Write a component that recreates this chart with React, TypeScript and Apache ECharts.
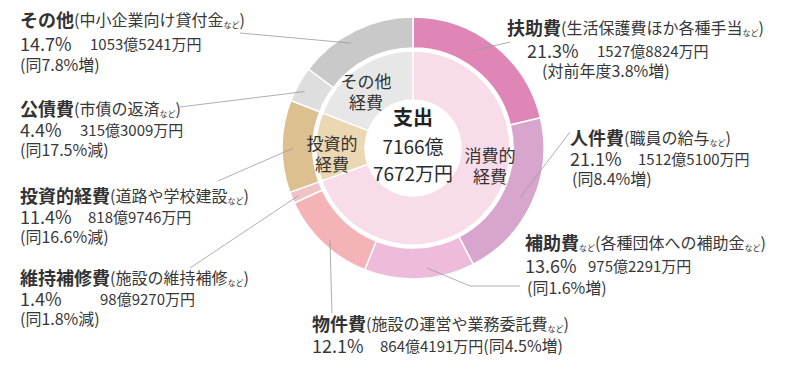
import React, { useEffect, useRef } from "react";
import * as echarts from "echarts";

// ---- data ----
const categories = ["扶助費", "人件費", "補助費", "物件費", "維持補修費", "投資的経費", "公債費", "その他"];
const shares = [21.3, 21.1, 13.6, 12.1, 1.4, 11.4, 4.4, 14.7];
const details = ["生活保護費ほか各種手当", "職員の給与", "各種団体への補助金", "施設の運営や業務委託費", "施設の維持補修", "道路や学校建設", "市債の返済", "中小企業向け貸付金"];
const amounts = ["1527億8824万円", "1512億5100万円", "975億2291万円", "864億4191万円", "98億9270万円", "818億9746万円", "315億3009万円", "1053億5241万円"];
const changes = ["対前年度3.8%増", "同8.4%増", "同1.6%増", "同4.5%増", "同1.8%減", "同16.6%減", "同17.5%減", "同7.8%増"];
const groupNames = ["消費的\n経費", "投資的\n経費", "その他\n経費"];
const groupShares = [69.5, 11.4, 19.1];
const centerTitle = "支出";
const centerLines = ["7166億", "7672万円"];

// ---- styles / layout ----
const outerColors = ["#df86b6", "#d8a6cd", "#eebbdb", "#f4b4b7", "#efc3c8", "#dcc090", "#dedede", "#c9c9c9"];
const innerColors = ["#f8dcea", "#ebd7b2", "#e7e7e7"];
const CX = 413, CY = 148;
const FONT = '"Noto Sans CJK JP", "Noto Sans", sans-serif';
const TXT = "#383838";

type Lay = { tx: number; ty: number; px: number; py: number; ax: number; cx?: number; cy?: number; frac: number; r: number; pts: number[][]; suffix?: boolean; inline?: boolean };
const layouts: Lay[] = [
  { tx: 507, ty: 27, px: 527, py: 50, ax: 597, cx: 542, cy: 70, frac: 0.41, r: 114, pts: [[510, 42]] },
  { tx: 570, ty: 137, px: 570, py: 158, ax: 638, cx: 572, cy: 178, frac: 0.5, r: 118, pts: [[570, 132]] },
  { tx: 525, ty: 242, px: 525, py: 265, ax: 588, cx: 527, cy: 287, frac: 0.42, r: 121, pts: [[470, 286], [520, 286]], suffix: true },
  { tx: 312, ty: 323, px: 312, py: 345, ax: 380, frac: 0.47, r: 124, pts: [[332, 313]], inline: true },
  { tx: 20, ty: 277, px: 20, py: 298, ax: 100, cx: 20, cy: 318, frac: 0.45, r: 124, pts: [[190, 268]] },
  { tx: 20, ty: 195, px: 20, py: 216, ax: 88, cx: 20, cy: 236, frac: 0.48, r: 120, pts: [[218, 181]] },
  { tx: 20, ty: 108, px: 20, py: 129, ax: 80, cx: 20, cy: 149, frac: 0.4, r: 122, pts: [[180, 107]] },
  { tx: 20, ty: 19, px: 20, py: 43, ax: 90, cx: 20, cy: 64, frac: 0.42, r: 122, pts: [[240, 33]] },
];
const innerLabelPos = [[490, 165], [332, 153], [366, 91]];

const rich = {
  b: { fontSize: 18, lineHeight: 18, fontWeight: "bold", fontFamily: FONT, fill: "#333", color: "#333" },
  n: { fontSize: 16, lineHeight: 18, fontFamily: FONT, fill: TXT, color: TXT },
  s: { fontSize: 8, lineHeight: 10, fontFamily: FONT, fill: TXT, color: TXT, verticalAlign: "bottom" },
  a: { fontSize: 15, lineHeight: 18, fontFamily: FONT, fill: TXT, color: TXT },
};

function text(x: number, y: number, t: string, extra: any = {}) {
  return {
    type: "text",
    z: 100,
    x,
    y,
    style: {
      text: t,
      fill: TXT,
      fontFamily: FONT,
      fontSize: 15,
      lineHeight: 17,
      align: "left",
      verticalAlign: "middle",
      textAlign: "left",
      textVerticalAlign: "middle",
      rich,
      ...extra,
    },
  };
}

export default function App() {
  const ref = useRef<HTMLDivElement>(null);
  useEffect(() => {
    document.body.style.margin = "0";
    const chart = echarts.init(ref.current!, null, { renderer: "svg" });
    const total = shares.reduce((a, b) => a + b, 0);
    const graphics: any[] = [];
    let cum = 0;
    categories.forEach((name, i) => {
      const L = layouts[i];
      const ang = ((cum + L.frac * shares[i]) / total) * Math.PI * 2;
      cum += shares[i];
      const ax = CX + L.r * Math.sin(ang);
      const ay = CY - L.r * Math.cos(ang);
      graphics.push({
        type: "polyline",
        z: 90,
        shape: { points: [[ax, ay], ...L.pts] },
        style: { stroke: "#9a9a9a", lineWidth: 0.8, fill: null },
      });
      const title = `{b|${name}}${L.suffix ? "{s|など}" : ""}{n|(${details[i]}}{s|など}{n|)}`;
      graphics.push(text(L.tx, L.ty, title));
      graphics.push(text(L.px, L.py, `${shares[i].toFixed(1)}%`, { fontSize: 18, lineHeight: 18 }));
      if (L.inline) {
        graphics.push(text(L.ax, L.py, `{a|${amounts[i]}}{n|(${changes[i]})}`));
      } else {
        graphics.push(text(L.ax, L.py, amounts[i], { fontSize: 15, lineHeight: 17 }));
        graphics.push(text(L.cx!, L.cy!, `(${changes[i]})`, { fontSize: 16, lineHeight: 17 }));
      }
    });
    groupNames.forEach((g, i) => {
      graphics.push(text(innerLabelPos[i][0], innerLabelPos[i][1], g, { fontSize: 17, align: "center", textAlign: "center", lineHeight: 21, fill: "#333" }));
    });
    graphics.push(text(CX, 116, centerTitle, { fontSize: 20, lineHeight: 22, fontWeight: "bold", align: "center", textAlign: "center", fill: "#222" }));
    graphics.push(text(CX, 145, centerLines[0], { fontSize: 19, lineHeight: 21, align: "center", textAlign: "center", fill: "#2a2a2a" }));
    graphics.push(text(CX, 172, centerLines[1], { fontSize: 19, lineHeight: 21, align: "center", textAlign: "center", fill: "#2a2a2a" }));

    chart.setOption({
      animation: false,
      backgroundColor: "#ffffff",
      series: [
        {
          type: "pie",
          center: [CX, CY],
          radius: [100, 131],
          startAngle: 90,
          clockwise: true,
          silent: true,
          label: { show: false },
          labelLine: { show: false },
          itemStyle: { borderColor: "#fff", borderWidth: 1.5 },
          data: categories.map((c, i) => ({ name: c, value: shares[i], itemStyle: { color: outerColors[i] } })),
        },
        {
          type: "pie",
          center: [CX, CY],
          radius: [48, 97],
          startAngle: 90,
          clockwise: true,
          silent: true,
          label: { show: false },
          labelLine: { show: false },
          itemStyle: { borderColor: "#fff", borderWidth: 1.5 },
          data: groupNames.map((g, i) => ({ name: g.replace("\n", ""), value: groupShares[i], itemStyle: { color: innerColors[i] } })),
        },
      ],
      graphic: { elements: graphics },
    });
    return () => chart.dispose();
  }, []);
  return <div ref={ref} style={{ position: "absolute", left: 0, top: 0, width: 800, height: 379 }} />;
}
